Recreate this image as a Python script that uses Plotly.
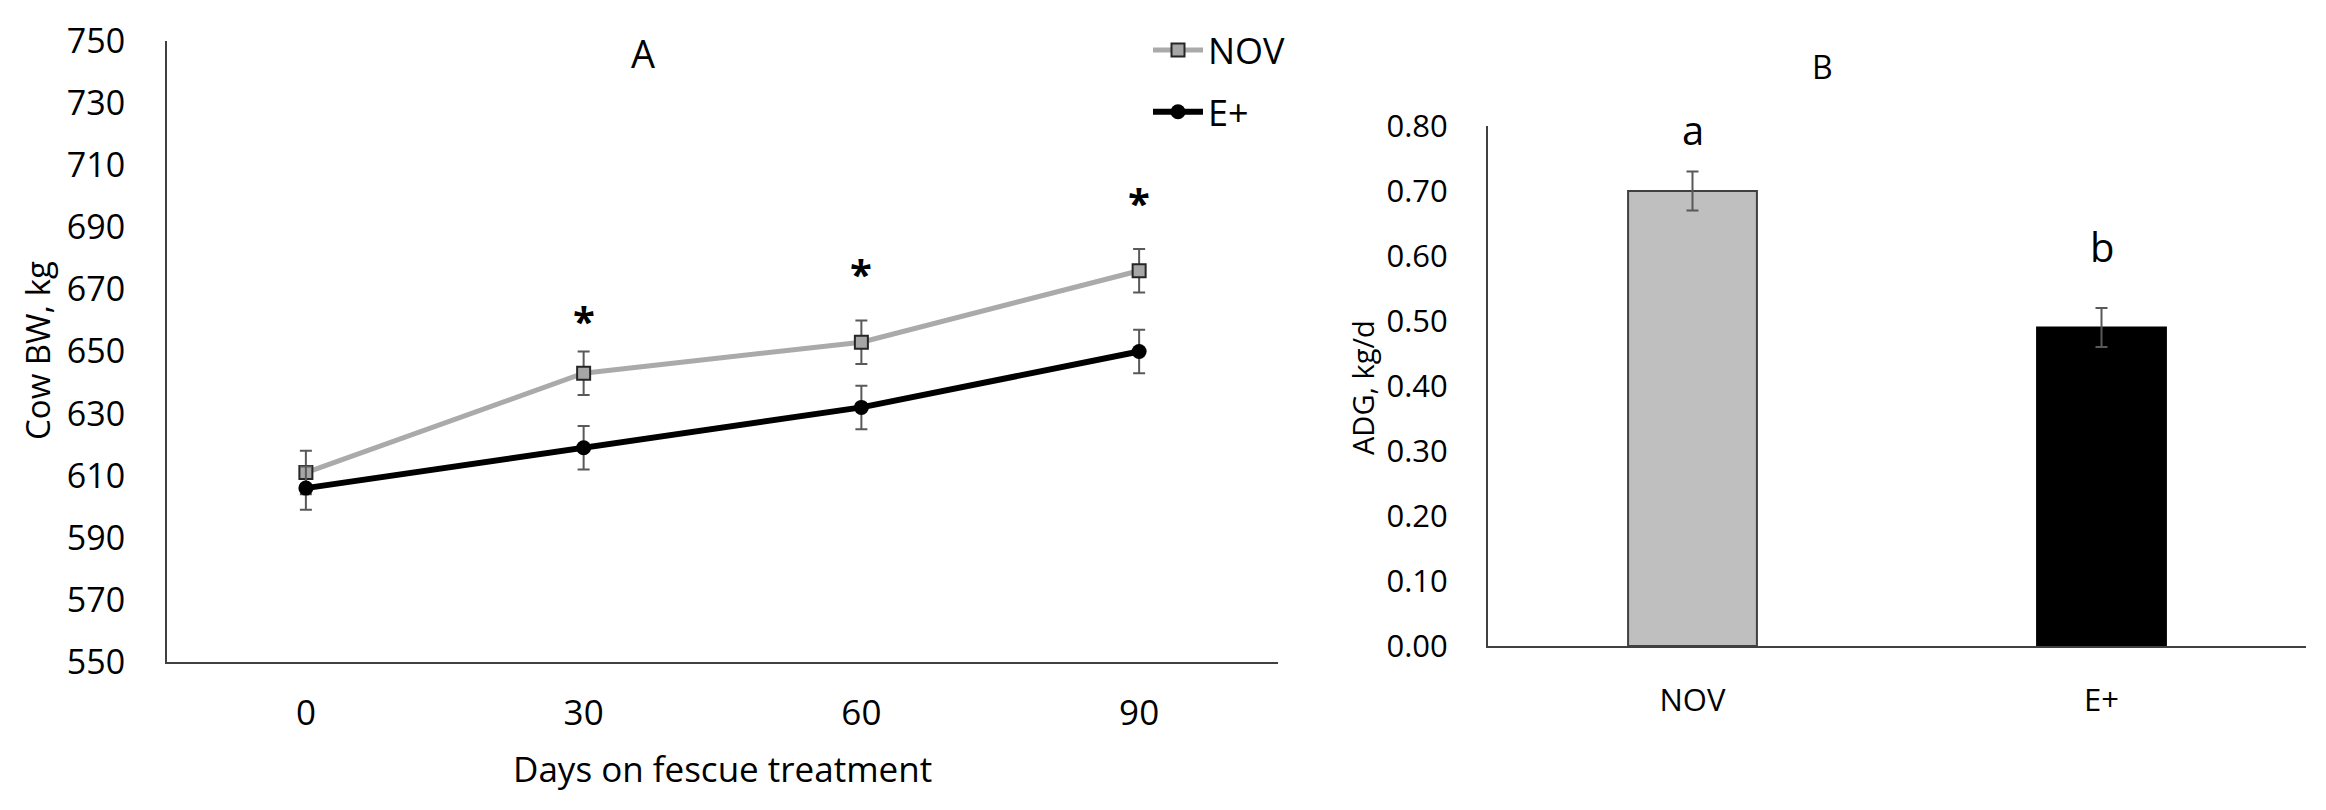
import plotly.graph_objects as go

# ---- Panel A data ----
days = ["0", "30", "60", "90"]
nov_bw = [611, 643, 653, 676]
eplus_bw = [606, 619, 632, 650]
nov_se = [7, 7, 7, 7]
eplus_se = [7, 7, 7, 7]
star_days = ["30", "60", "90"]
star_y = [660, 675, 698]
bw_ticks = list(range(550, 751, 20))

# ---- Panel B data ----
groups = ["NOV", "E+"]
adg = [0.70, 0.49]
adg_se = [0.03, 0.03]
letters = ["a", "b"]
letter_y = [0.795, 0.615]
adg_ticks = [i / 10 for i in range(0, 9)]

W, H = 2326, 810
OFF = 8  # page body margin offset
FONT = "Open Sans"
AX = "#404040"

def px_x(p):
    return (p - OFF) / W

def px_y(p):
    return 1 - (p - OFF) / H

fig = go.Figure()

fig.add_trace(go.Scatter(
    x=days, y=nov_bw, name="NOV", mode="lines+markers",
    line=dict(color="#aaaaaa", width=5),
    marker=dict(symbol="square", size=13, color="#a6a6a6",
                line=dict(color="#262626", width=2)),
    error_y=dict(type="data", array=nov_se, color="#595959", thickness=2, width=6),
    legendgroup="g1", xaxis="x", yaxis="y"))

fig.add_trace(go.Scatter(
    x=days, y=eplus_bw, name="E+", mode="lines+markers",
    line=dict(color="#000000", width=6),
    marker=dict(symbol="circle", size=15, color="#000000"),
    error_y=dict(type="data", array=eplus_se, color="#595959", thickness=2, width=6),
    legendgroup="g2", xaxis="x", yaxis="y"))

fig.add_trace(go.Bar(
    x=groups, y=adg, width=0.315,
    marker=dict(color=["#bfbfbf", "#000000"], line=dict(color=["#404040", "#000000"], width=2)),
    error_y=dict(type="data", array=adg_se, color="#595959", thickness=2, width=6),
    showlegend=False, xaxis="x2", yaxis="y2"))

annotations = []
for d, yv in zip(star_days, star_y):
    annotations.append(dict(x=days.index(d), y=yv, xref="x", yref="y", text="<b>*</b>",
                            xanchor="center", yanchor="middle",
                            showarrow=False, font=dict(family=FONT, size=40, color="#000")))
for g, t, yv in zip(groups, letters, letter_y):
    annotations.append(dict(x=groups.index(g), y=yv, xref="x2", yref="y2", text=t,
                            xanchor="center", yanchor="middle",
                            showarrow=False, font=dict(family=FONT, size=40, color="#000")))

def paper_text(x, y, text, size, angle=0):
    return dict(x=px_x(x), y=px_y(y), xref="paper", yref="paper", text=text,
                xanchor="center", yanchor="middle", textangle=angle, showarrow=False,
                font=dict(family=FONT, size=size, color="#000"))

annotations += [
    paper_text(643, 53, "A", 38),
    paper_text(1822, 66, "B", 32),
    paper_text(722, 768, "Days on fescue treatment", 35),
    paper_text(38, 351, "Cow BW, kg", 33, -90),
    paper_text(1362, 388, "ADG, kg/d", 29, -90),
]

fig.update_layout(
    template="none",
    width=W, height=H, margin=dict(l=0, r=0, t=0, b=0, pad=0, autoexpand=False),
    paper_bgcolor="white", plot_bgcolor="white",
    font=dict(family=FONT, color="#000"),
    showlegend=True,
    legend=dict(x=px_x(1148), y=px_y(20), xanchor="left", yanchor="top",
                font=dict(family=FONT, size=36, color="#000"),
                traceorder="grouped", tracegroupgap=12, bgcolor="rgba(0,0,0,0)",
                itemwidth=50),
    xaxis=dict(domain=[px_x(167), px_x(1278)], type="category", range=[-0.5, 3.5],
               automargin=False,
               showline=True, linecolor=AX, linewidth=2, showgrid=False, zeroline=False,
               ticks="outside", ticklen=19, tickcolor="rgba(0,0,0,0)",
               tickfont=dict(family=FONT, size=35, color="#000"), anchor="y"),
    yaxis=dict(domain=[px_y(662), px_y(41)], range=[550, 750], tickvals=bw_ticks,
               automargin=False,
               showline=True, linecolor=AX, linewidth=2, showgrid=False, zeroline=False,
               ticks="outside", ticklen=33, tickcolor="rgba(0,0,0,0)",
               tickfont=dict(family=FONT, size=34, color="#000"), anchor="x"),
    xaxis2=dict(domain=[px_x(1488), px_x(2306)], type="category", range=[-0.5, 1.5],
                automargin=False,
                showline=True, linecolor=AX, linewidth=2, showgrid=False, zeroline=False,
                ticks="outside", ticklen=26, tickcolor="rgba(0,0,0,0)",
                tickfont=dict(family=FONT, size=31, color="#000"), anchor="y2"),
    yaxis2=dict(domain=[px_y(646), px_y(126)], range=[0, 0.8], tickvals=adg_ticks,
                tickformat=".2f", automargin=False,
                showline=True, linecolor=AX, linewidth=2, showgrid=False, zeroline=False,
                ticks="outside", ticklen=32, tickcolor="rgba(0,0,0,0)",
                tickfont=dict(family=FONT, size=31, color="#000"), anchor="x2"),
    annotations=annotations,
)

fig.write_html("out.html")
